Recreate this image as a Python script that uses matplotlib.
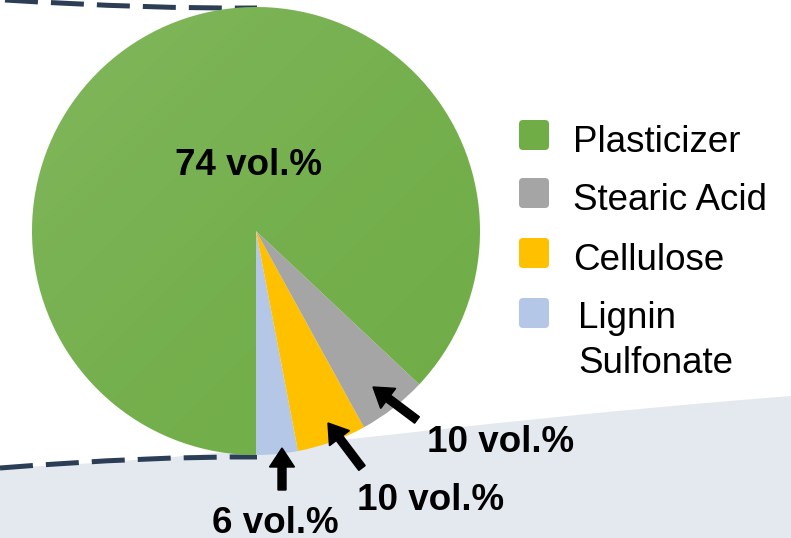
import numpy as np
import matplotlib.pyplot as plt
from matplotlib.path import Path
from matplotlib.patches import PathPatch, FancyBboxPatch

plt.rcParams['font.family'] = ['Liberation Sans', 'DejaVu Sans']

# wedge sizes as drawn (share of the circle), order: from the bottom, going right
components = ['Lignin\nSulfonate', 'Cellulose', 'Stearic Acid', 'Plasticizer']
sizes = [3, 5, 5, 87]
colors = ['#B4C7E7', '#FFC000', '#A5A5A5', '#70AD47']
# printed labels
labels = ['6 vol.%', '10 vol.%', '10 vol.%', '74 vol.%']
# legend order (top to bottom)
legend_order = ['Plasticizer', 'Stearic Acid', 'Cellulose', 'Lignin\nSulfonate']

fig = plt.figure(figsize=(7.91, 5.38), dpi=100)
ax = fig.add_axes([0, 0, 1, 1])

# grey band in the background
band = Path([(0, 468), (250, 458), (420, 425), (791, 396),
             (791, 538), (0, 538), (0, 468)],
            [Path.MOVETO, Path.CURVE4, Path.CURVE4, Path.CURVE4,
             Path.LINETO, Path.LINETO, Path.CLOSEPOLY])
ax.add_patch(PathPatch(band, facecolor='#E4E8EF', edgecolor='none', zorder=0))

# dashed guide lines
dash = (0, (6.6, 2.6))
top = Path([(5, 0), (150, 9), (257, 8)], [Path.MOVETO, Path.CURVE3, Path.CURVE3])
bot = Path([(0, 468), (150, 456), (257, 457)], [Path.MOVETO, Path.CURVE3, Path.CURVE3])
for p in (top, bot):
    ax.add_patch(PathPatch(p, facecolor='none', edgecolor='#2C3E55',
                           lw=3.6, linestyle=dash, capstyle='butt', zorder=1))

# pie
cx, cy, r = 256, 231, 224
wedges, _ = ax.pie(sizes, colors=colors, startangle=90, counterclock=False,
                   center=(cx, cy), radius=r, frame=True,
                   wedgeprops=dict(linewidth=0))
for w in wedges:
    w.set_zorder(2)

# soft light gradient on the big wedge
yy, xx = np.mgrid[0:1:200j, 0:1:200j]
g = 1 - (xx + yy) / 2
img = np.zeros((200, 200, 4))
img[..., :3] = 1
img[..., 3] = 0.12 * g ** 1.5
im = ax.imshow(img, extent=(cx - r, cx + r, cy + r, cy - r), origin='upper', zorder=2.5)
im.set_clip_path(wedges[3])

ax.set_xlim(0, 791)
ax.set_ylim(538, 0)
ax.set_aspect('equal')
ax.axis('off')

# arrows
for tail, tip in [((417, 420), (373, 387)), ((362, 468), (328, 423)), ((282, 490), (282, 448))]:
    ax.arrow(tail[0], tail[1], tip[0] - tail[0], tip[1] - tail[1], width=8,
             head_width=25, head_length=19, length_includes_head=True,
             color='black', zorder=4)

# value labels
lab_pos = [(212, 533), (357, 510), (427, 452), (175, 175)]
for txt, (x, y) in zip(labels, lab_pos):
    ax.text(x, y, txt, fontsize=26.5, fontweight='bold', ha='left', va='baseline', zorder=5)

# legend
leg_y = [120, 178, 238, 298]
for name, y in zip(legend_order, leg_y):
    c = colors[components.index(name)]
    ax.add_patch(FancyBboxPatch((519, y), 30, 30, boxstyle='round,pad=0,rounding_size=4',
                                facecolor=c, edgecolor='none', zorder=3))
    if '\n' in name:
        ax.text(578, y + 3, name, fontsize=26.5, ha='left', va='top', linespacing=1.38)
    else:
        ax.text(573, y + 32, name, fontsize=26.5, ha='left', va='baseline')

fig.savefig('out.png', dpi=100)
